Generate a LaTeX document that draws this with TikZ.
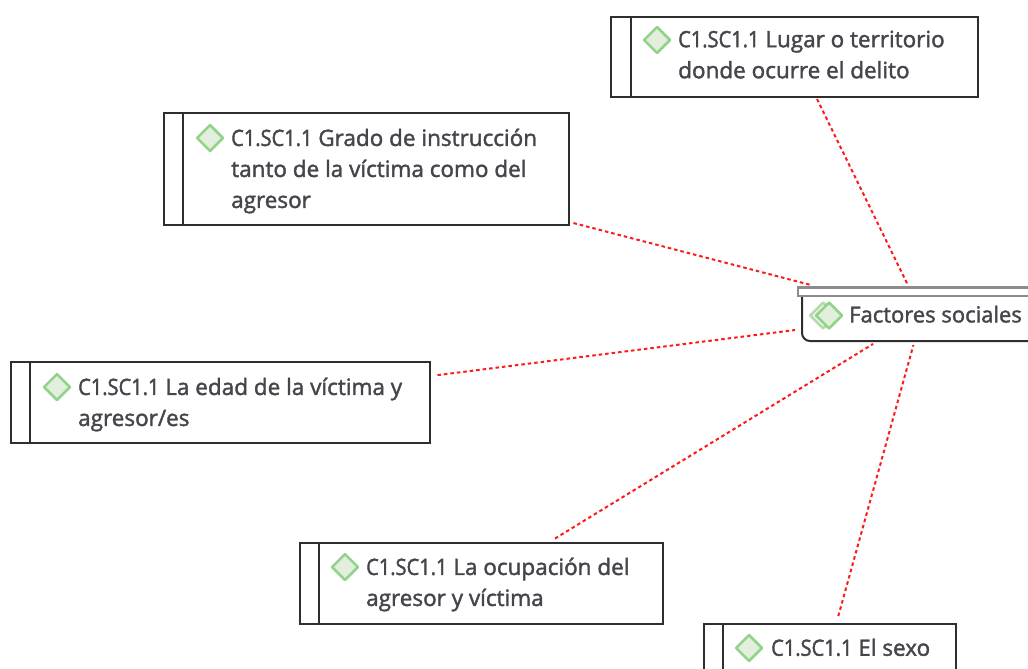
\documentclass[tikz,border=0pt]{standalone}
\usepackage{fontspec}
\setmainfont{Open Sans}[RawFeature={embolden=1.7}]
\newfontfamily\prefixfont{Open Sans}[FakeStretch=0.89,RawFeature={embolden=1.7}]
\newcommand{\prefixcode}{{\prefixfont C1.SC1.1}}
\usetikzlibrary{shapes.geometric}
\definecolor{txt}{HTML}{44464C}
\definecolor{edge}{HTML}{2E2E2E}
\definecolor{dgreen}{HTML}{93D28A}
\definecolor{dfill}{HTML}{E2EFDD}
\tikzset{
  x=1pt,y=-1pt,
  memo/.style={draw=edge,line width=2pt,fill=white,inner sep=0pt,minimum width=#1},
  bar/.style={draw=edge,line width=2pt},
  gem/.style={diamond,aspect=1,draw=dgreen,line width=2.5pt,line join=round,fill=dfill,minimum size=27pt,inner sep=0pt},
  label/.style={anchor=north west,inner sep=0pt,align=left,text=txt,font=\fontsize{22.5pt}{31pt}\selectfont},
  hublabel/.style={label,font=\fontsize{22pt}{31pt}\selectfont},
  link/.style={draw=red!90!white,line width=2pt,dash pattern=on 3.5pt off 3pt}
}
\begin{document}
\begin{tikzpicture}
\useasboundingbox (0,0) rectangle (1028,669);
\fill[white] (0,0) rectangle (1028,669);
\coordinate (hub) at (922,314);
% boxes
\node[memo=367pt,minimum height=80pt] (lugar) at (794.5,57) {};
\node[memo=405pt,minimum height=112pt] (grado) at (366.5,169) {};
\node[memo=419pt,minimum height=81pt] (edad) at (220.5,402.5) {};
\node[memo=363pt,minimum height=81pt] (ocup) at (481.5,583.5) {};
\node[memo=252pt,minimum height=80pt] (sexo) at (830,664) {};
% inner bars
\draw[bar] (631,17) -- (631,97);
\draw[bar] (183,113) -- (183,225);
\draw[bar] (30,362) -- (30,443);
\draw[bar] (319,543) -- (319,624);
\draw[bar] (723,624) -- (723,669);
% hub
\draw[draw=edge,line width=2pt,fill=white,rounded corners=8pt] (802,290) -- (802,341) -- (1040,341) -- (1040,290);
\draw[draw=gray!90,line width=2.4pt,fill=white] (798,287.5) rectangle (1040,296);
% links
\draw[link,shorten <=46.8pt,shorten >=33.5pt] ([xshift=2pt]lugar.center) -- (hub);
\draw[link,shorten <=213.9pt,shorten >=113.7pt] (grado.center) -- (hub);
\draw[link,shorten <=218.7pt,shorten >=128pt] (edad.center) -- (hub);
\draw[link,shorten <=86.2pt,shorten >=57.4pt] (ocup.center) -- (hub);
\draw[link,shorten <=49.8pt,shorten >=32.2pt] ([xshift=-5pt]sexo.center) -- (hub);
% gems
\node[gem] (g1) at (657,40) {};
\node[gem] (g2) at (210,138) {};
\node[gem] (g3) at (57,387) {};
\node[gem] (g4) at (345,567) {};
\node[gem] (g5) at (749,648) {};
\node[gem,opacity=.7] (g6) at (823,315.5) {};
\node[gem] (g7) at (829,315.5) {};
% labels
\node[label] (t1) at (678,30.5) {\prefixcode\ Lugar o territorio\\donde ocurre el delito};
\node[label] (t2) at (231,128.5) {\prefixcode\ Grado de instrucción\\tanto de la víctima como del\\agresor};
\node[label] (t3) at (78,377.5) {\prefixcode\ La edad de la víctima y\\agresor/es};
\node[label] (t4) at (366,557.5) {\prefixcode\ La ocupación del\\agresor y víctima};
\node[label] (t5) at (771,638.5) {\prefixcode\ El sexo};
\node[hublabel] (t6) at (849,305.5) {Factores sociales};
\end{tikzpicture}
\end{document}
